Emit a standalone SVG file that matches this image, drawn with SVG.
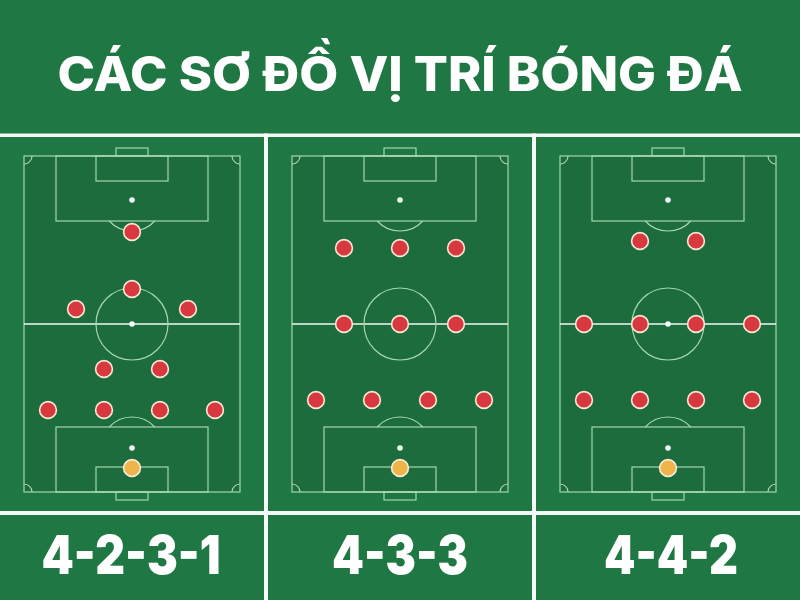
<svg xmlns="http://www.w3.org/2000/svg" xmlns:xlink="http://www.w3.org/1999/xlink" width="800" height="600" viewBox="0 0 800 600">
  <style>
    .bg { fill: #1f7843; }
    .sep { fill: #f4faf6; }
    .field { fill: #1c6c3e; }
    .ln { fill: none; stroke: #a6d6b0; stroke-width: 1.2; }
    .half { stroke: #eef8f1; stroke-width: 1.3; }
    .spot { fill: #f4fbf6; }
    .pl { fill: #d8393f; stroke: #f8e8d6; stroke-width: 1.6; }
    .gk { fill: #efb54b; stroke: #f8ecd6; stroke-width: 1.6; }
    .title { font-family: Inter, "Open Sans", "Liberation Sans", sans-serif; font-weight: 800; font-size: 48px; fill: #ffffff; }
    .lbl { font-family: Inter, "Open Sans", "Liberation Sans", sans-serif; font-weight: 900; font-size: 53px; fill: #ffffff; }
  </style>
  <defs>
    <g id="pitch">
      <rect class="field" x="24" y="156" width="216" height="336"/>
      <rect class="ln" x="24" y="156" width="216" height="336"/>
      <line class="ln half" x1="24" y1="324" x2="240" y2="324"/>
      <circle class="ln" cx="132" cy="324" r="36"/>
      <circle class="spot" cx="132" cy="324" r="2.8"/>
      <rect class="ln" x="56" y="156" width="152" height="65"/>
      <rect class="ln" x="96" y="156" width="72" height="25"/>
      <rect class="ln" x="116" y="148" width="32" height="8"/>
      <circle class="spot" cx="132" cy="200" r="2.8"/>
      <path class="ln" d="M109.2 221 A31 31 0 0 0 154.8 221"/>
      <rect class="ln" x="56" y="427" width="152" height="65"/>
      <rect class="ln" x="96" y="467" width="72" height="25"/>
      <rect class="ln" x="116" y="492" width="32" height="8"/>
      <circle class="spot" cx="132" cy="448" r="2.8"/>
      <path class="ln" d="M109.2 427 A31 31 0 0 1 154.8 427"/>
      <path class="ln" d="M24 164 A8 8 0 0 0 32 156 M232 156 A8 8 0 0 0 240 164 M32 492 A8 8 0 0 0 24 484 M240 484 A8 8 0 0 0 232 492"/>
    </g>
  </defs>

  <rect class="bg" x="0" y="0" width="800" height="600"/>

  <g id="header">
    <text class="title" x="400" y="91" text-anchor="middle" textLength="685" lengthAdjust="spacingAndGlyphs">CÁC SƠ ĐỒ VỊ TRÍ BÓNG ĐÁ</text>
  </g>

  <g id="separators">
    <rect class="sep" x="0" y="133.5" width="800" height="3.5"/>
    <rect class="sep" x="0" y="511" width="800" height="4"/>
    <rect class="sep" x="264" y="133.5" width="4" height="466.5"/>
    <rect class="sep" x="532" y="133.5" width="4" height="466.5"/>
  </g>

  <g id="panel-4231">
    <use xlink:href="#pitch" href="#pitch"/>
    <g id="players-4231">
      <circle class="pl" cx="132" cy="232" r="8.4"/>
      <circle class="pl" cx="132" cy="289" r="8.4"/>
      <circle class="pl" cx="76" cy="309" r="8.4"/>
      <circle class="pl" cx="188" cy="309" r="8.4"/>
      <circle class="pl" cx="104" cy="369" r="8.4"/>
      <circle class="pl" cx="160" cy="369" r="8.4"/>
      <circle class="pl" cx="48" cy="410" r="8.4"/>
      <circle class="pl" cx="104" cy="410" r="8.4"/>
      <circle class="pl" cx="160" cy="410" r="8.4"/>
      <circle class="pl" cx="215" cy="410" r="8.4"/>
      <circle class="gk" cx="132" cy="468" r="8.4"/>
    </g>
    <text class="lbl" x="131" y="574" text-anchor="middle" textLength="179" lengthAdjust="spacingAndGlyphs">4-2-3-1</text>
  </g>

  <g id="panel-433">
    <use xlink:href="#pitch" href="#pitch" transform="translate(268 0)"/>
    <g id="players-433">
      <circle class="pl" cx="344" cy="248" r="8.4"/>
      <circle class="pl" cx="400" cy="248" r="8.4"/>
      <circle class="pl" cx="456" cy="248" r="8.4"/>
      <circle class="pl" cx="344" cy="324" r="8.4"/>
      <circle class="pl" cx="400" cy="324" r="8.4"/>
      <circle class="pl" cx="456" cy="324" r="8.4"/>
      <circle class="pl" cx="316" cy="400" r="8.4"/>
      <circle class="pl" cx="372" cy="400" r="8.4"/>
      <circle class="pl" cx="428" cy="400" r="8.4"/>
      <circle class="pl" cx="484" cy="400" r="8.4"/>
      <circle class="gk" cx="400" cy="468" r="8.4"/>
    </g>
    <text class="lbl" x="400" y="574" text-anchor="middle" textLength="136" lengthAdjust="spacingAndGlyphs">4-3-3</text>
  </g>

  <g id="panel-442">
    <use xlink:href="#pitch" href="#pitch" transform="translate(536 0)"/>
    <g id="players-442">
      <circle class="pl" cx="640" cy="241" r="8.4"/>
      <circle class="pl" cx="696" cy="241" r="8.4"/>
      <circle class="pl" cx="584" cy="324" r="8.4"/>
      <circle class="pl" cx="640" cy="324" r="8.4"/>
      <circle class="pl" cx="696" cy="324" r="8.4"/>
      <circle class="pl" cx="752" cy="324" r="8.4"/>
      <circle class="pl" cx="584" cy="400" r="8.4"/>
      <circle class="pl" cx="640" cy="400" r="8.4"/>
      <circle class="pl" cx="696" cy="400" r="8.4"/>
      <circle class="pl" cx="752" cy="400" r="8.4"/>
      <circle class="gk" cx="668" cy="468" r="8.4"/>
    </g>
    <text class="lbl" x="671" y="574" text-anchor="middle" textLength="134" lengthAdjust="spacingAndGlyphs">4-4-2</text>
  </g>
</svg>
